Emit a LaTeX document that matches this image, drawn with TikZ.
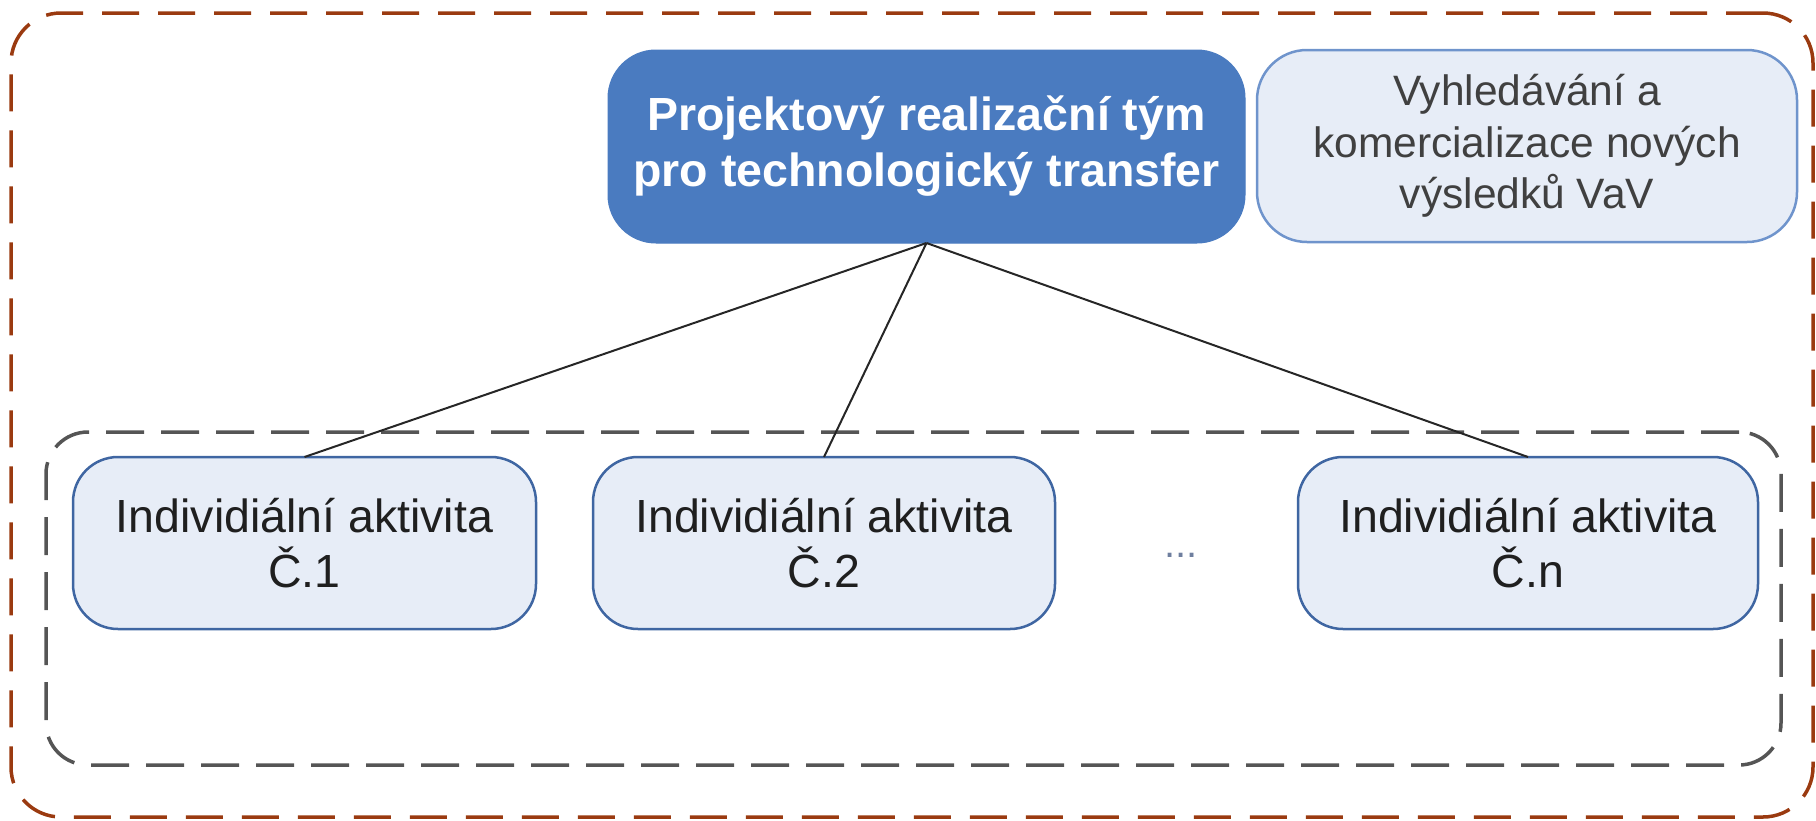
\documentclass[tikz,border=0pt]{standalone}
\usepackage{fontspec}
\setmainfont{Liberation Sans}
\definecolor{outerc}{HTML}{9A3A10}
\definecolor{innerc}{HTML}{555555}
\definecolor{topfill}{HTML}{4A7BC0}
\definecolor{lightfill}{HTML}{E7EDF7}
\definecolor{actborder}{HTML}{3F66A2}
\definecolor{rightborder}{HTML}{6F94CC}
\definecolor{dotc}{HTML}{6F7F9F}
\tikzset{
  outerbox/.style={draw=outerc, line width=3.5pt, dash pattern=on 37pt off 19pt, rounded corners=50pt, inner sep=0pt, outer sep=0pt},
  innerbox/.style={draw=innerc, line width=3.5pt, dash pattern=on 38pt off 17pt, rounded corners=42pt, inner sep=0pt, outer sep=0pt},
  topbox/.style={fill=topfill, draw=topfill, line width=1pt, rounded corners=48pt, text=white, align=center, inner sep=0pt, outer sep=0pt,
    font=\fontsize{46.5}{56}\selectfont\bfseries},
  rightbox/.style={fill=lightfill, draw=rightborder, line width=2.5pt, rounded corners=50pt, text=black!75, align=center, inner sep=0pt, outer sep=0pt,
    font=\fontsize{42.5}{51.5}\selectfont},
  actbox/.style={fill=lightfill, draw=actborder, line width=2.5pt, rounded corners=45pt, text=black!88, align=center, inner sep=0pt, outer sep=0pt,
    minimum height=172pt, font=\fontsize{46.5}{55}\selectfont},
  link/.style={draw=black!85, line width=2pt}
}
\begin{document}
\begin{tikzpicture}[x=1pt,y=-1pt]
\useasboundingbox (0,0) rectangle (1816,820);
\node[outerbox, minimum width=1802pt, minimum height=804pt] (outer) at (912,415) {};
\node[innerbox, minimum width=1735pt, minimum height=333pt] (inner) at (913.5,598.5) {};
\node[topbox, minimum width=637pt, minimum height=193pt] (top) at (926.5,146.5) {Projektový realizační tým\\pro technologický transfer};
\node[rightbox, minimum width=540pt, minimum height=192pt] (right) at (1527,146) {Vyhledávání a\\komercializace nových\\výsledků VaV};
\node[actbox, minimum width=463pt] (a1) at (304.5,543) {Individiální aktivita\\Č.1};
\node[actbox, minimum width=462pt] (a2) at (824,543) {Individiální aktivita\\Č.2};
\node[actbox, minimum width=460pt] (an) at (1528,543) {Individiální aktivita\\Č.n};
\node[text=dotc, font=\fontsize{40}{40}\selectfont, inner sep=0pt] (dots) at (1181,555) {...};
\draw[link] (top.south) -- (a1.north);
\draw[link] (top.south) -- (a2.north);
\draw[link] (top.south) -- (an.north);
\end{tikzpicture}
\end{document}
